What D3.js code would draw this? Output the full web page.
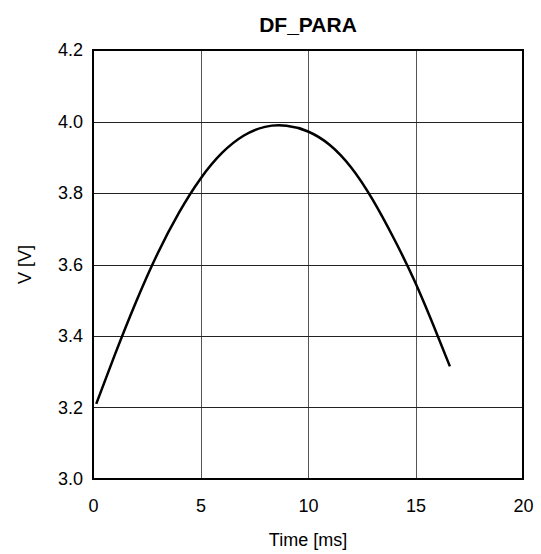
<!DOCTYPE html>
<html>
<head>
<meta charset="utf-8">
<script src="https://cdn.jsdelivr.net/npm/d3@7"></script>
<style>
  html, body { margin: 0; padding: 0; background: #fff; }
  svg { display: block; font-family: "Liberation Sans", Arial, sans-serif; }
</style>
</head>
<body>
<svg id="chart" width="541" height="554"></svg>
<script>
const title = "DF_PARA";
const xLabel = "Time [ms]";
const yLabel = "V [V]";
const xTicks = [0, 5, 10, 15, 20];
const yTicks = [3.0, 3.2, 3.4, 3.6, 3.8, 4.0, 4.2];
const timeMs = [0.15, 1, 2, 3, 4, 5, 6, 7, 8, 9, 10, 11, 12, 13, 14, 15, 16, 16.6];
const voltage = [3.21, 3.345, 3.495, 3.63, 3.745, 3.84, 3.912, 3.96, 3.985, 3.988, 3.972, 3.935, 3.872, 3.782, 3.672, 3.548, 3.405, 3.315];

const svg = d3.select("#chart");
const m = { left: 93, right: 523, top: 50, bottom: 479 };

const x = d3.scaleLinear().domain([0, 20]).range([m.left, m.right]);
const y = d3.scaleLinear().domain([3.0, 4.2]).range([m.bottom, m.top]);

// grid
svg.append("g").selectAll("line").data(xTicks).join("line")
  .attr("x1", d => Math.round(x(d)) + 0.5).attr("x2", d => Math.round(x(d)) + 0.5)
  .attr("y1", m.top).attr("y2", m.bottom)
  .attr("stroke", "#555").attr("stroke-width", 1);
svg.append("g").selectAll("line").data(yTicks).join("line")
  .attr("y1", d => Math.round(y(d)) + 0.5).attr("y2", d => Math.round(y(d)) + 0.5)
  .attr("x1", m.left).attr("x2", m.right)
  .attr("stroke", "#222").attr("stroke-width", 1);

// curve
const data = timeMs.map((t, i) => ({ t, v: voltage[i] }));
svg.append("path").datum(data)
  .attr("fill", "none").attr("stroke", "#000").attr("stroke-width", 2.5)
  .attr("d", d3.line().x(d => x(d.t)).y(d => y(d.v)).curve(d3.curveNatural));

// frame
svg.append("rect")
  .attr("x", m.left).attr("y", m.top)
  .attr("width", m.right - m.left).attr("height", m.bottom - m.top)
  .attr("fill", "none").attr("stroke", "#000").attr("stroke-width", 2);

// axes labels
const xAxis = d3.axisBottom(x).tickValues(xTicks).tickSize(0).tickPadding(20).tickFormat(d3.format("d"));
const gx = svg.append("g").attr("transform", `translate(0,${m.bottom})`).call(xAxis);
gx.select(".domain").remove();
gx.selectAll("text").attr("font-size", 18).attr("fill", "#000").attr("font-family", "Liberation Sans, Arial, sans-serif");

const yAxis = d3.axisLeft(y).tickValues(yTicks).tickSize(0).tickPadding(10).tickFormat(d3.format(".1f"));
const gy = svg.append("g").attr("transform", `translate(${m.left},0)`).call(yAxis);
gy.select(".domain").remove();
gy.selectAll("text").attr("font-size", 18).attr("fill", "#000").attr("font-family", "Liberation Sans, Arial, sans-serif");

svg.append("text").attr("x", (m.left + m.right) / 2).attr("y", 32)
  .attr("text-anchor", "middle").attr("font-size", 21).attr("font-weight", "bold").text(title);
svg.append("text").attr("x", (m.left + m.right) / 2).attr("y", 546)
  .attr("text-anchor", "middle").attr("font-size", 18).text(xLabel);
svg.append("text").attr("transform", `translate(31,${(m.top + m.bottom) / 2}) rotate(-90)`)
  .attr("text-anchor", "middle").attr("font-size", 18).text(yLabel);
</script>
</body>
</html>
